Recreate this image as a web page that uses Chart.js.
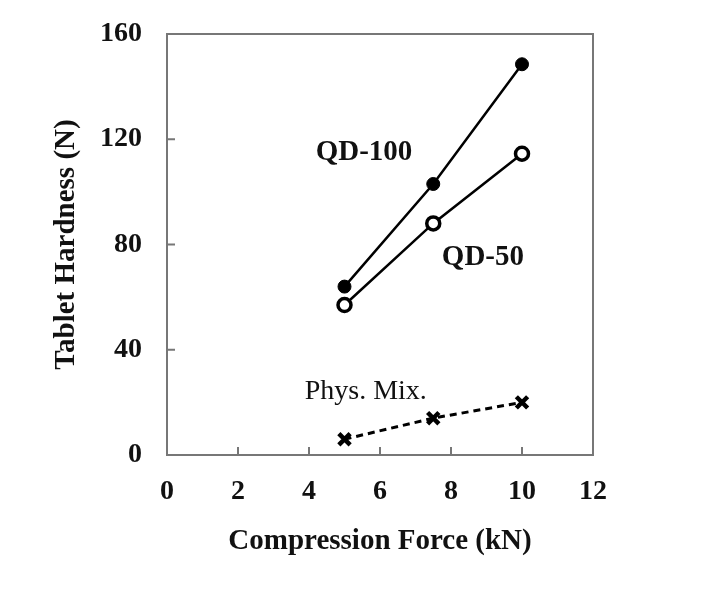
<!DOCTYPE html>
<html>
<head>
<meta charset="utf-8">
<script src="https://cdn.jsdelivr.net/npm/chart.js@4.4.1/dist/chart.umd.min.js"></script>
<style>
  body { margin: 0; background: #fff; }
  canvas { display: block; }
</style>
</head>
<body>
<canvas id="grafico" width="721" height="604"></canvas>
<script>
// data
const force = [5, 7.5, 10];
const qd100 = [64, 103, 148.5];
const qd50 = [57, 88, 114.5];
const physMix = [6, 14, 20];
const xTicks = [0, 2, 4, 6, 8, 10, 12];
const yTicks = [0, 40, 80, 120, 160];
const seriesLabels = [
    { text: 'QD-100', x: 5.55, y: 115, bold: true },
    { text: 'QD-50', x: 8.9, y: 75, bold: true },
    { text: 'Phys. Mix.', x: 5.6, y: 24, bold: false }
];

const serif = '"Liberation Serif", "DejaVu Serif", serif';

function pts(ys) {
    return force.map((x, i) => ({ x: x, y: ys[i] }));
}

// frame, inward ticks and the in-plot labels
const framePlugin = {
    id: 'frame',
    afterDraw(chart) {
        const { ctx, chartArea: a, scales } = chart;
        ctx.save();
        ctx.strokeStyle = '#777';
        ctx.lineWidth = 2;
        ctx.strokeRect(a.left, a.top, a.right - a.left, a.bottom - a.top);
        ctx.beginPath();
        xTicks.slice(1, -1).forEach(v => {
            const px = scales.x.getPixelForValue(v);
            ctx.moveTo(px, a.bottom);
            ctx.lineTo(px, a.bottom - 8);
        });
        yTicks.slice(1, -1).forEach(v => {
            const py = scales.y.getPixelForValue(v);
            ctx.moveTo(a.left, py);
            ctx.lineTo(a.left + 8, py);
        });
        ctx.stroke();
        ctx.fillStyle = '#111';
        ctx.textAlign = 'center';
        ctx.textBaseline = 'middle';
        seriesLabels.forEach(l => {
            ctx.font = (l.bold ? 'bold 29px ' : '28px ') + serif;
            ctx.fillText(l.text, scales.x.getPixelForValue(l.x), scales.y.getPixelForValue(l.y));
        });
        ctx.restore();
    }
};

const ctx = document.getElementById('grafico').getContext('2d');
new Chart(ctx, {
    type: 'line',
    data: {
        datasets: [{
            label: 'QD-100',
            data: pts(qd100),
            borderColor: '#000',
            borderWidth: 2.5,
            pointBackgroundColor: '#000',
            pointBorderColor: '#000',
            pointRadius: 6.5,
            pointBorderWidth: 1
        }, {
            label: 'QD-50',
            data: pts(qd50),
            borderColor: '#000',
            borderWidth: 2.5,
            pointBackgroundColor: '#fff',
            pointBorderColor: '#000',
            pointRadius: 6.5,
            pointBorderWidth: 3.5
        }, {
            label: 'Phys. Mix.',
            data: pts(physMix),
            borderColor: '#000',
            borderWidth: 3,
            borderDash: [7, 5],
            pointStyle: 'crossRot',
            pointBorderColor: '#000',
            pointRadius: 8,
            pointBorderWidth: 4.5
        }]
    },
    options: {
        responsive: false,
        animation: false,
        layout: { padding: { top: 34, right: 128, left: 0, bottom: 0 } },
        plugins: {
            legend: { display: false },
            tooltip: { enabled: false }
        },
        scales: {
            x: {
                type: 'linear',
                min: 0,
                max: 12,
                afterFit(scale) {
                    scale.height = 149;
                    scale.paddingLeft = 0;
                    scale.paddingRight = 0;
                },
                afterBuildTicks(scale) { scale.ticks = xTicks.map(v => ({ value: v })); },
                grid: { display: false, drawTicks: false },
                border: { display: false },
                ticks: {
                    padding: 20,
                    color: '#111',
                    font: { family: serif, size: 28, weight: 'bold' }
                },
                title: {
                    display: true,
                    text: 'Compression Force (kN)',
                    color: '#111',
                    font: { family: serif, size: 29, weight: 'bold' },
                    padding: { top: 0, bottom: 45 }
                }
            },
            y: {
                min: 0,
                max: 160,
                afterFit(scale) {
                    scale.width = 167;
                    scale.paddingTop = 0;
                    scale.paddingBottom = 0;
                },
                afterBuildTicks(scale) { scale.ticks = yTicks.map(v => ({ value: v })); },
                grid: { display: false, drawTicks: false },
                border: { display: false },
                ticks: {
                    padding: 25,
                    color: '#111',
                    font: { family: serif, size: 28, weight: 'bold' }
                },
                title: {
                    display: true,
                    text: 'Tablet Hardness (N)',
                    color: '#111',
                    font: { family: serif, size: 29, weight: 'bold' },
                    padding: { top: 49, bottom: 0 }
                }
            }
        }
    },
    plugins: [framePlugin]
});
</script>
</body>
</html>
